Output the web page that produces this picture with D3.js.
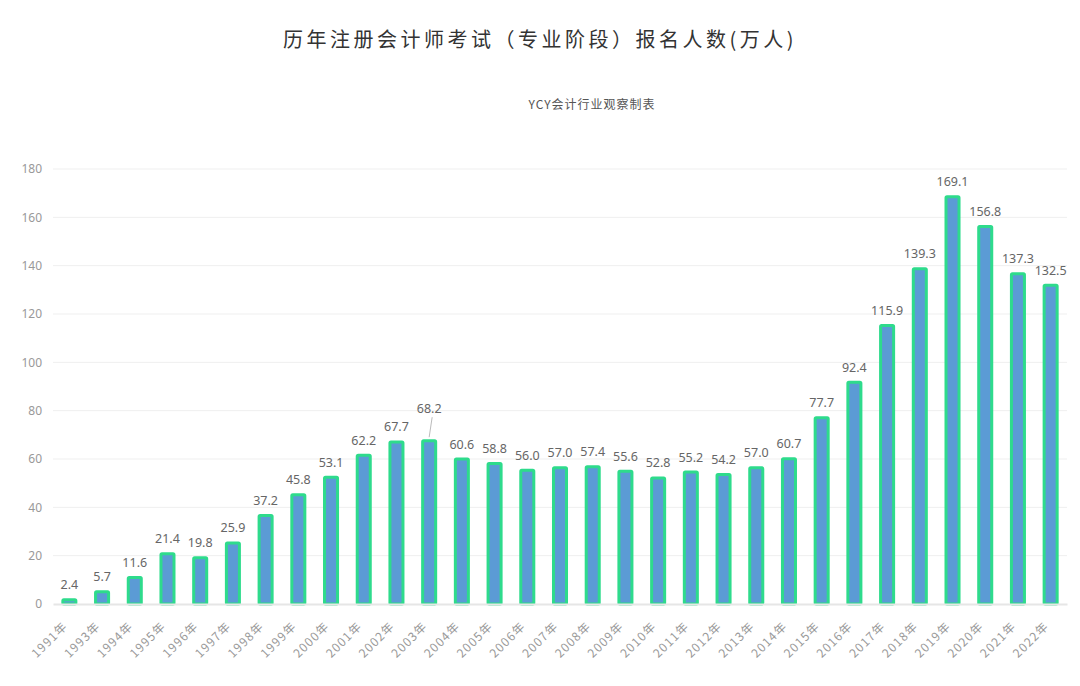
<!DOCTYPE html>
<html><head><meta charset="utf-8">
<script src="https://cdn.jsdelivr.net/npm/d3@7/dist/d3.min.js"></script>
<style>body{margin:0;background:#fff;} svg{display:block;}</style>
</head><body><svg id="c" width="1080" height="686"></svg>
<script>
const categories = ["1991年","1993年","1994年","1995年","1996年","1997年","1998年","1999年","2000年","2001年","2002年","2003年","2004年","2005年","2006年","2007年","2008年","2009年","2010年","2011年","2012年","2013年","2014年","2015年","2016年","2017年","2018年","2019年","2020年","2021年","2022年"];
const values = [2.4,5.7,11.6,21.4,19.8,25.9,37.2,45.8,53.1,62.2,67.7,68.2,60.6,58.8,56.0,57.0,57.4,55.6,52.8,55.2,54.2,57.0,60.7,77.7,92.4,115.9,139.3,169.1,156.8,137.3,132.5];
const yTicks = [0,20,40,60,80,100,120,140,160,180];
const titleText = "历年注册会计师考试（专业阶段）报名人数(万人)";
const subtitleText = "YCY会计行业观察制表";

const svg = d3.select("#c");
const m = {left:53, right:1067, top:169, bottom:604};
const x = d3.scaleBand().domain(categories).range([m.left, m.right]).paddingInner(0.51).paddingOuter(0.255);
const y = d3.scaleLinear().domain([0,180]).range([m.bottom, m.top]);

svg.append("text").attr("x",540).attr("y",47).attr("text-anchor","middle")
  .attr("font-family","'Noto Sans CJK SC'").attr("font-size",20).attr("letter-spacing",3.5)
  .attr("fill","#333").text(titleText);
svg.append("text").attr("x",592).attr("y",109).attr("text-anchor","middle")
  .attr("font-family","'Noto Sans CJK SC'").attr("font-size",12).attr("letter-spacing",1)
  .attr("fill","#555").text(subtitleText);

// grid
svg.append("g").selectAll("line").data(yTicks.slice(1)).join("line")
  .attr("x1",m.left).attr("x2",m.right).attr("y1",d=>y(d)).attr("y2",d=>y(d))
  .attr("stroke","#efefef").attr("stroke-width",1);

const ya = svg.append("g").attr("transform",`translate(${m.left},0)`)
  .call(d3.axisLeft(y).tickValues(yTicks).tickSize(0).tickPadding(11));
ya.select(".domain").remove();
ya.selectAll("text").attr("font-family","'Noto Sans','Open Sans',sans-serif").attr("font-size",12).attr("fill","#999");

// bars
const bw = x.bandwidth();
svg.append("g").selectAll("rect").data(values).join("rect")
  .attr("x",(d,i)=>x(categories[i])+1.5).attr("width",bw-3)
  .attr("y",d=>y(d)+1.5).attr("height",d=>Math.max(0,y(0)-y(d)-1.5))
  .attr("rx",1).attr("fill","#5b9bd5").attr("stroke","#2edb8c").attr("stroke-width",3);

// x axis
const xa = svg.append("g").attr("transform",`translate(0,${m.bottom})`)
  .call(d3.axisBottom(x).tickSize(0).tickPadding(10));
xa.select(".domain").attr("stroke","#e6e6e6").attr("stroke-width",2);
xa.selectAll("text").attr("font-family","'Noto Sans CJK SC'").attr("font-size",12).attr("fill","#999")
  .attr("letter-spacing",1.2)
  .attr("text-anchor","end").attr("x",0).attr("y",0).attr("dy",0)
  .attr("transform","translate(-1,23) rotate(-45)");

// value labels
const shifted = {"2003年":17};
const lg = svg.append("g");
values.forEach((v,i)=>{
  const cx = x(categories[i]) + bw/2;
  const s = shifted[categories[i]] || 0;
  const ty = y(v) - 9 - s;
  if (s) {
    lg.append("line").attr("x1",cx+3).attr("y1",ty+4).attr("x2",cx).attr("y2",y(v)-2)
      .attr("stroke","#bbb").attr("stroke-width",1);
  }
  lg.append("text").attr("x",cx).attr("y",ty).attr("text-anchor","middle")
    .attr("font-family","'Noto Sans','Open Sans',sans-serif").attr("font-size",12.5).attr("fill","#666")
    .text(v.toFixed(1));
});
</script></body></html>
